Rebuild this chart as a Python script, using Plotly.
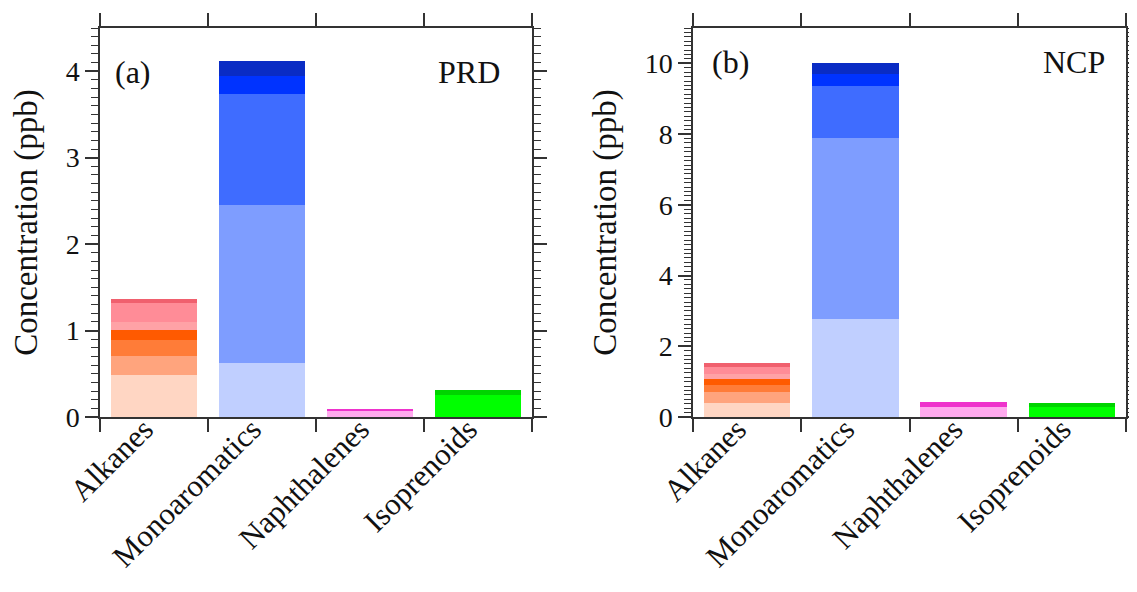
import plotly.graph_objects as go

categories = ["Alkanes", "Monoaromatics", "Naphthalenes", "Isoprenoids"]

# stacked layer values (bottom -> top), ppb
prd_alkanes = [0.49, 0.215, 0.185, 0.116, 0.094, 0.214, 0.05]
prd_monoaromatics = [0.62, 1.83, 1.29, 0.21, 0.17]
prd_naphthalenes = [0.07, 0.015]
prd_isoprenoids = [0.255, 0.055]

ncp_alkanes = [0.40, 0.30, 0.20, 0.17, 0.16, 0.19, 0.10]
ncp_monoaromatics = [2.76, 5.13, 1.46, 0.36, 0.31]
ncp_naphthalenes = [0.29, 0.14]
ncp_isoprenoids = [0.29, 0.11]

alkane_colors = ["#ffd6c3", "#ffa47d", "#ff7c38", "#ff5a00", "#ffa2a6", "#ff8c97", "#f0606e"]
mono_colors = ["#c0cfff", "#7e9dff", "#3f6cff", "#0033ff", "#0a2cc4"]
naph_colors = ["#ffaaee", "#ee33cc"]
iso_colors = ["#00ff00", "#00d400"]

panels = [
    dict(name="PRD", tag="(a)", xa="x", ya="y",
         data=[prd_alkanes, prd_monoaromatics, prd_naphthalenes, prd_isoprenoids]),
    dict(name="NCP", tag="(b)", xa="x2", ya="y2",
         data=[ncp_alkanes, ncp_monoaromatics, ncp_naphthalenes, ncp_isoprenoids]),
]
color_sets = [alkane_colors, mono_colors, naph_colors, iso_colors]

fig = go.Figure()
for p in panels:
    for cat, vals, cols in zip(categories, p["data"], color_sets):
        for v, c in zip(vals, cols):
            fig.add_trace(go.Bar(
                x=[cat], y=[v], marker=dict(color=c, line=dict(width=0)),
                width=0.8, xaxis=p["xa"], yaxis=p["ya"], showlegend=False,
                hoverinfo="y"))

font_family = "Liberation Serif, Times New Roman, serif"
axcol = "#333333"

common_x = dict(
    type="category", categoryorder="array", categoryarray=categories,
    range=[-0.5, 3.5], tickson="boundaries", ticks="outside", ticklen=13,
    tickwidth=1.5, tickcolor=axcol, showline=True, linecolor=axcol, linewidth=1.5,
    mirror="ticks", tickangle=-45, tickfont=dict(size=31, color="#111"),
    ticklabelstandoff=-20, ticklabelshift=-10,
    showgrid=False, zeroline=False, automargin=False,
)
common_y = dict(
    ticks="outside", ticklen=13, tickwidth=1.5, tickcolor=axcol,
    showline=True, linecolor=axcol, linewidth=1.5, mirror="ticks",
    tickfont=dict(size=28, color="#111"), showgrid=False, zeroline=False,
    automargin=False,
    title=dict(text="Concentration (ppb)", font=dict(size=33, color="#111"), standoff=18),
)

# page body has an 8px margin; figure coords = screen coords - 8
FW, FH = 1121, 576
L, R, T, B = 92, 3, 20, 167
W = FW - L - R

fig.update_layout(
    width=FW, height=FH, plot_bgcolor="white", paper_bgcolor="white",
    margin=dict(l=L, r=R, t=T, b=B), barmode="stack", bargap=0.2,
    font=dict(family=font_family, color="#111"),
    xaxis=dict(domain=[0, 432/W], anchor="y", **common_x),
    xaxis2=dict(domain=[(685-L)/W, 1.0], anchor="y2", **common_x),
    yaxis=dict(domain=[0, 1], anchor="x", range=[0, 4.5], dtick=1,
               minor=dict(dtick=0.1, ticks="outside", ticklen=7, tickwidth=1.2, tickcolor=axcol, showgrid=False),
               **common_y),
    yaxis2=dict(domain=[0, 1], anchor="x2", range=[0, 11], dtick=2,
                minor=dict(dtick=0.125, ticks="outside", ticklen=7, tickwidth=1.2, tickcolor=axcol, showgrid=False),
                **common_y),
)

ann = [
    dict(text="(a)", xref="x domain", yref="y domain", x=0.03, y=0.887, xanchor="left", yanchor="middle"),
    dict(text="PRD", xref="x domain", yref="y domain", x=0.93, y=0.887, xanchor="right", yanchor="middle"),
    dict(text="(b)", xref="x2 domain", yref="y2 domain", x=0.04, y=0.913, xanchor="left", yanchor="middle"),
    dict(text="NCP", xref="x2 domain", yref="y2 domain", x=0.955, y=0.913, xanchor="right", yanchor="middle"),
]
for a in ann:
    fig.add_annotation(showarrow=False, font=dict(size=32, color="#111"), **a)

fig.write_html("out.html")
